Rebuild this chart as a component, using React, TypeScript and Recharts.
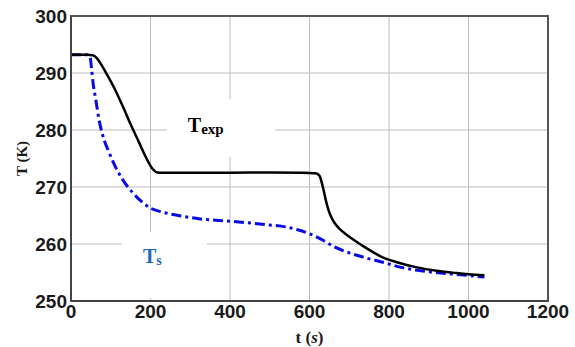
import React from 'react';
import { LineChart, Line, XAxis, YAxis, CartesianGrid, ReferenceArea, ReferenceDot } from 'recharts';

const xTicks = [0, 200, 400, 600, 800, 1000, 1200];
const yTicks = [250, 260, 270, 280, 290, 300];

const texpTime = [0, 40, 55, 65, 75, 90, 110, 130, 150, 170, 190, 205, 215, 230, 300, 400, 500, 580, 615, 625, 630, 635, 640, 645, 650, 657, 665, 675, 690, 710, 740, 780, 820, 870, 920, 970, 1000, 1040];
const texpValues = [293.2, 293.2, 293.1, 292.6, 291.6, 289.8, 287.2, 284.2, 281.0, 278.0, 275.0, 273.2, 272.6, 272.5, 272.5, 272.5, 272.55, 272.5, 272.4, 272.0, 271.0, 269.6, 268.0, 266.6, 265.5, 264.4, 263.5, 262.7, 261.8, 260.8, 259.4, 257.8, 256.8, 255.9, 255.3, 254.9, 254.7, 254.5];

const tsTime = [0, 40, 48, 52, 56, 62, 70, 80, 95, 110, 130, 155, 180, 200, 230, 270, 325, 400, 490, 540, 570, 600, 630, 660, 690, 740, 790, 830, 880, 930, 980, 1040];
const tsValues = [293.2, 293.2, 292.8, 290.5, 288.0, 285.5, 282.0, 279.0, 276.2, 273.8, 271.3, 269.0, 267.3, 266.3, 265.6, 265.0, 264.4, 264.0, 263.4, 263.0, 262.5, 261.8, 260.8, 259.6, 258.7, 257.6, 256.7, 255.9, 255.3, 254.9, 254.6, 254.2];

const texpData = texpTime.map((t, i) => ({ t, T: texpValues[i] }));
const tsData = tsTime.map((t, i) => ({ t, T: tsValues[i] }));

const tickFont = { fontFamily: '"Liberation Sans", Arial, sans-serif', fontWeight: 'bold', fontSize: 19, fill: '#1a1a1a' };
const serif = '"Liberation Serif", "Times New Roman", serif';

const YLabel = (props: any) => {
  const vb = props.viewBox || {};
  const cy = vb.y + vb.height / 2;
  return (
    <text x={27} y={cy} transform={`rotate(-90, 27, ${cy})`} textAnchor="middle" fontFamily={serif} fontWeight="bold" fontSize={15} fill="#1a1a1a">
      T (K)
    </text>
  );
};

const XLabel = (props: any) => {
  const vb = props.viewBox || {};
  const cx = vb.x + vb.width / 2;
  return (
    <text x={cx} y={343} textAnchor="middle" fontFamily={serif} fontWeight="bold" fontSize={17} fill="#1a1a1a">
      t (<tspan fontStyle="italic">s</tspan>)
    </text>
  );
};

const TexpLabel = (props: any) => (
  <text x={props.cx} y={props.cy} fontFamily={serif} fontWeight="bold" fontSize={20} fill="#000">
    T<tspan fontSize={15} dy={2}>exp</tspan>
  </text>
);

const TsLabel = (props: any) => (
  <text x={props.cx} y={props.cy} fontFamily={serif} fontWeight="bold" fontSize={20} fill="#1f6ab8">
    T<tspan fontSize={14} dy={2}>s</tspan>
  </text>
);

export default function App() {
  return (
    <div style={{ position: 'absolute', left: 0, top: 0, background: '#fff' }}>
      <LineChart width={575} height={347} margin={{ top: 16, right: 27, bottom: 0, left: 0 }}>
        <CartesianGrid stroke="#bdbdbd" strokeWidth={1} horizontalValues={yTicks} verticalValues={xTicks} />
        <XAxis
          type="number"
          dataKey="t"
          domain={[0, 1200]}
          ticks={xTicks}
          allowDataOverflow
          height={46}
          tickSize={0}
          tickMargin={4}
          tick={tickFont}
          axisLine={{ stroke: '#444', strokeWidth: 2 }}
          label={<XLabel />}
        />
        <YAxis
          type="number"
          dataKey="T"
          domain={[250, 300]}
          ticks={yTicks}
          allowDataOverflow
          width={71}
          tickSize={0}
          tickMargin={4}
          tick={tickFont}
          axisLine={{ stroke: '#444', strokeWidth: 2 }}
          label={<YLabel />}
        />
        <ReferenceArea x1={241} x2={513} y1={275.3} y2={285.4} fill="#fff" fillOpacity={1} stroke="none" />
        <ReferenceArea x1={128} x2={342} y1={250.5} y2={262.1} fill="#fff" fillOpacity={1} stroke="none" />
        <ReferenceArea x1={0} x2={1200} y1={250} y2={300} fill="none" stroke="#555" strokeWidth={2} />
        <ReferenceDot x={294} y={279.6} r={0} shape={<TexpLabel />} />
        <ReferenceDot x={181} y={256.7} r={0} shape={<TsLabel />} />
        <Line
          data={tsData}
          dataKey="T"
          type="monotone"
          stroke="#0a0ae6"
          strokeWidth={3}
          strokeDasharray="10 4 3 4"
          dot={false}
          isAnimationActive={false}
        />
        <Line
          data={texpData}
          dataKey="T"
          type="monotone"
          stroke="#000"
          strokeWidth={2.5}
          dot={false}
          isAnimationActive={false}
        />
      </LineChart>
    </div>
  );
}
